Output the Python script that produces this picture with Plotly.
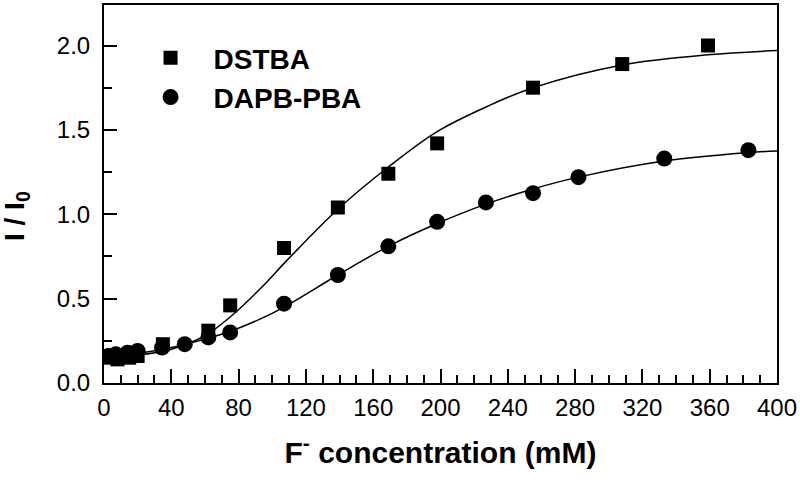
import plotly.graph_objects as go

# DSTBA data (squares)
dstba_x = [3.5, 8, 15, 20, 35, 62, 75, 107, 139, 169, 198, 255, 308, 359]
dstba_y = [0.15, 0.14, 0.15, 0.16, 0.23, 0.31, 0.46, 0.80, 1.04, 1.24, 1.42, 1.75, 1.89, 2.00]
# DAPB-PBA data (circles)
dapb_x = [2.5, 7, 14, 20, 34.5, 48, 62, 75, 107, 139, 169, 198, 227, 255, 282, 333, 383]
dapb_y = [0.16, 0.17, 0.18, 0.19, 0.21, 0.23, 0.27, 0.30, 0.47, 0.64, 0.81, 0.955, 1.07, 1.125, 1.22, 1.33, 1.38]

# fitted curves
fit1_x = [0, 20, 40, 60, 76, 93, 110, 139, 169, 198, 228, 255, 308, 359, 400]
fit1_y = [0.15, 0.165, 0.20, 0.28, 0.40, 0.56, 0.74, 1.03, 1.28, 1.49, 1.64, 1.75, 1.885, 1.945, 1.97]
fit2_x = [0, 20, 40, 60, 76, 93, 107, 139, 169, 198, 227, 255, 282, 333, 383, 400]
fit2_y = [0.16, 0.175, 0.21, 0.26, 0.31, 0.38, 0.45, 0.64, 0.81, 0.945, 1.06, 1.15, 1.22, 1.315, 1.365, 1.375]

x_ticks = [0, 40, 80, 120, 160, 200, 240, 280, 320, 360, 400]
y_ticks = [0.0, 0.5, 1.0, 1.5, 2.0]

fig = go.Figure()
fig.add_trace(go.Scatter(x=fit1_x, y=fit1_y, mode="lines", line=dict(color="black", width=1.5, shape="spline", smoothing=1.0), showlegend=False, hoverinfo="skip"))
fig.add_trace(go.Scatter(x=fit2_x, y=fit2_y, mode="lines", line=dict(color="black", width=1.5, shape="spline", smoothing=1.0), showlegend=False, hoverinfo="skip"))
fig.add_trace(go.Scatter(x=dstba_x, y=dstba_y, mode="markers", name="DSTBA", legendgroup="a",
                         marker=dict(symbol="square", size=14, color="black")))
fig.add_trace(go.Scatter(x=dapb_x, y=dapb_y, mode="markers", name="DAPB-PBA", legendgroup="b",
                         marker=dict(symbol="circle", size=16, color="black")))

font_family = "Liberation Sans, Arial, sans-serif"
fig.update_layout(
    width=800, height=487,
    margin=dict(l=104, r=23, t=5, b=104),
    paper_bgcolor="white", plot_bgcolor="white",
    font=dict(family=font_family, color="black", size=24),
    legend=dict(x=0.035, y=0.926, xanchor="left", yanchor="top",
                font=dict(size=28, family=font_family, weight="bold"),
                bgcolor="rgba(0,0,0,0)", itemsizing="trace", tracegroupgap=0,
                traceorder="grouped", itemwidth=76),
    xaxis=dict(range=[0, 400], tickvals=x_ticks, ticks="inside", ticklen=14, tickwidth=2,
               showline=True, linewidth=2, linecolor="black", mirror=True, showgrid=False, zeroline=False,
               automargin=False, ticklabeloverflow="allow", ticklabelstandoff=2,
               minor=dict(ticks="inside", ticklen=8, tickwidth=1.5, dtick=10, showgrid=False, tickcolor="black"),
               tickfont=dict(size=24), tickcolor="black",
               title=dict(text="<b>F<sup>-</sup> concentration (mM)</b>", font=dict(size=30), standoff=22)),
    yaxis=dict(range=[0, 2.24], tickvals=y_ticks, tickformat=".1f", ticks="inside", ticklen=13, tickwidth=2,
               showline=True, linewidth=2, linecolor="black", mirror=True, showgrid=False, zeroline=False,
               automargin=False, ticklabelstandoff=7,
               minor=dict(ticks="inside", ticklen=8, tickwidth=1.5, dtick=0.25, showgrid=False, tickcolor="black"),
               tickfont=dict(size=24), tickcolor="black"),
    annotations=[dict(text="<b>I / I<sub>0</sub></b>", textangle=-90, xref="paper", yref="paper",
                      x=-(104 - 17) / 673, y=(383 - 216) / 378, xanchor="center", yanchor="middle",
                      showarrow=False, font=dict(size=28, family=font_family, color="black"))],
)
fig.write_html("out.html", config={"displayModeBar": False},
               post_script="document.body.style.margin='0';")
